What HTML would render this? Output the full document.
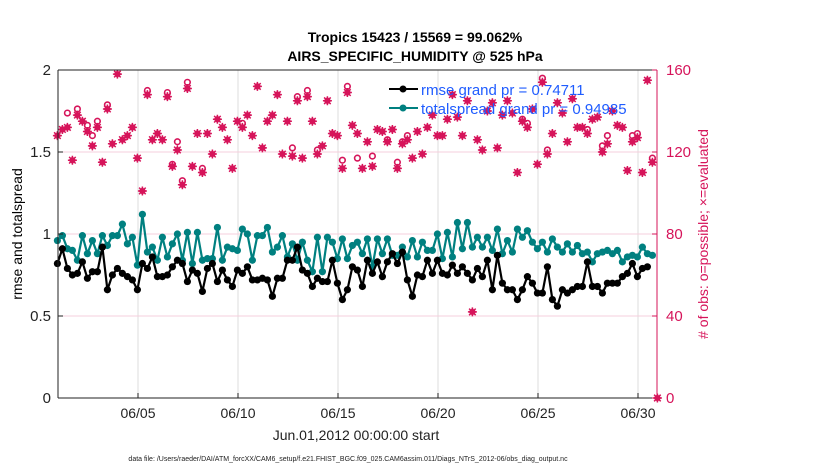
<!DOCTYPE html>
<html><head><meta charset="utf-8"><style>
body{margin:0;background:#fff;}
svg text{font-family:"Liberation Sans",sans-serif;}
</style></head><body>
<svg id="chart" width="830" height="470" viewBox="0 0 830 470">
<text x="415" y="42" text-anchor="middle" font-size="14" font-weight="bold">Tropics 15423 / 15569 = 99.062%</text>
<text x="415" y="61" text-anchor="middle" font-size="14" font-weight="bold">AIRS_SPECIFIC_HUMIDITY @ 525 hPa</text>
<g id="grid"></g>
<g id="marks"></g>
<g id="axes"></g>
<text transform="translate(22,234) rotate(-90)" text-anchor="middle" font-size="14">rmse and totalspread</text>
<text transform="translate(708,234) rotate(-90)" text-anchor="middle" font-size="14" fill="#d6145a"># of obs: o=possible; ×=evaluated</text>
<text x="356" y="440" text-anchor="middle" font-size="14" fill="#222">Jun.01,2012 00:00:00 start</text>
<text x="348" y="461" text-anchor="middle" font-size="7" fill="#222">data file: /Users/raeder/DAI/ATM_forcXX/CAM6_setup/f.e21.FHIST_BGC.f09_025.CAM6assim.011/Diags_NTrS_2012-06/obs_diag_output.nc</text>
<g id="legend"></g>
</svg>
<script>
const xTickLabels=["06/05","06/10","06/15","06/20","06/25","06/30"];
const xTickDays=[4,9,14,19,24,29];
const leftTicks=[0,0.5,1,1.5,2];
const rightTicks=[0,40,80,120,160];
const rmse=[0.82,0.91,0.79,0.75,0.76,0.83,0.73,0.77,0.77,0.92,0.66,0.75,0.79,0.76,0.74,0.72,0.66,0.82,0.79,0.86,0.74,0.74,0.75,0.80,0.84,0.82,0.71,0.78,0.76,0.65,0.79,0.82,0.71,0.78,0.72,0.68,0.78,0.76,0.80,0.72,0.72,0.73,0.72,0.62,0.73,0.73,0.84,0.84,0.92,0.78,0.76,0.68,0.73,0.71,0.71,0.84,0.70,0.60,0.66,0.80,
0.78,0.68,0.84,0.76,0.83,0.74,0.83,0.88,0.82,0.89,0.72,0.62,0.75,0.74,0.84,0.76,0.84,0.76,0.75,0.81,0.76,0.80,0.76,0.72,0.79,0.74,0.84,0.66,0.87,0.70,0.66,0.66,0.60,0.66,0.74,0.70,0.64,0.64,0.80,0.60,0.56,0.66,0.64,0.66,0.68,0.68,0.83,0.68,0.68,0.64,0.70,0.70,0.70,0.74,0.76,0.82,0.74,0.79,0.80,null,null];
const spread=[0.96,0.99,0.91,0.90,0.84,0.99,0.88,0.96,0.88,0.99,0.93,0.99,0.99,1.06,0.94,0.98,0.81,1.12,0.89,0.92,0.84,0.98,0.86,0.94,1.00,0.84,1.01,0.82,1.01,0.84,0.85,0.85,1.04,0.84,0.92,0.91,0.90,1.03,1.00,0.84,0.99,0.99,1.04,0.89,0.92,0.99,0.86,0.94,0.84,0.95,0.84,0.77,0.98,0.77,0.98,0.95,0.85,0.97,0.85,0.93,
0.95,0.88,0.97,0.80,0.97,0.88,0.97,0.87,0.87,0.92,0.86,0.96,0.86,0.95,0.90,0.90,1.00,0.85,1.01,0.86,1.07,0.91,1.07,0.92,0.98,0.92,0.98,0.90,1.03,0.88,0.96,0.89,1.03,0.98,1.02,0.95,0.91,0.95,0.89,0.97,0.92,0.89,0.94,0.89,0.93,0.88,0.89,0.83,0.88,0.89,0.90,0.88,0.90,0.83,0.86,0.87,0.86,0.92,0.88,0.87,null];
const evaluated=[128,131,132,116,138,135,130,123,132,115,141,124,158,126,128,132,117,101,148,126,129,126,147,113,121,104,151,113,129,110,129,119,136,132,126,112,135,132,138,128,
152,122,135,138,148,119,135,118,145,117,147,135,119,123,145,129,128,112,149,133,129,112,125,113,131,130,125,131,112,124,126,117,130,119,132,138,128,128,136,148,
137,128,145,42,126,121,140,144,122,138,145,139,110,135,132,141,114,154,119,129,144,139,125,146,132,132,129,136,137,120,124,140,133,132,111,125,127,110,155,115,0];
const possible=[128,131,139,116,141,135,133,128,135,115,143,124,158,126,128,132,117,101,150,126,129,126,149,114,125,106,154,113,129,112,129,119,136,132,126,112,135,134,138,128,
152,122,135,138,148,119,135,122,147,117,150,135,121,123,145,129,128,116,152,133,117,112,125,118,131,130,126,131,115,125,128,117,130,119,132,138,128,128,136,148,
137,128,145,42,126,121,140,144,122,138,145,139,110,136,134,141,114,156,121,129,144,139,125,146,132,132,131,136,137,123,128,140,133,132,111,128,129,110,155,117,0];

const X0=58,X1=657,Y0=398,Y1=70;
const xs=d=>X0+d*20;
const yl=v=>Y0-(v/2)*(Y0-Y1);
const yr=v=>Y0-(v/160)*(Y0-Y1);
const tday=i=>0.25*i-0.03;
const NS="http://www.w3.org/2000/svg";
function mk(tag,attrs,parent){const e=document.createElementNS(NS,tag);for(const k in attrs)e.setAttribute(k,attrs[k]);parent.appendChild(e);return e;}
const grid=document.getElementById('grid'),marks=document.getElementById('marks'),axes=document.getElementById('axes'),legend=document.getElementById('legend');
xTickDays.forEach(d=>{const l=mk('line',{x1:xs(d),x2:xs(d),y1:Y1,y2:Y0,stroke:'#dcdcdc','stroke-width':1},grid);

});
rightTicks.slice(1,4).forEach(v=>{const l=mk('line',{x1:X0,x2:X1,y1:yr(v),y2:yr(v),stroke:'#f6cfdc','stroke-width':1},grid);

});
mk('line',{x1:X0,x2:X1,y1:Y1,y2:Y1,stroke:'#222'},axes);
mk('line',{x1:X0,x2:X1,y1:Y0,y2:Y0,stroke:'#222'},axes);
mk('line',{x1:X0,x2:X0,y1:Y1,y2:Y0,stroke:'#222'},axes);
mk('line',{x1:X1,x2:X1,y1:Y1,y2:Y0,stroke:'#d6145a'},axes);
xTickDays.forEach((d,i)=>{mk('line',{x1:xs(d),x2:xs(d),y1:Y0,y2:Y0-5,stroke:'#222'},axes);
const t=mk('text',{x:xs(d),y:418,'text-anchor':'middle','font-size':14,fill:'#222'},axes);t.textContent=xTickLabels[i];

});
leftTicks.forEach(v=>{mk('line',{x1:X0,x2:X0+5,y1:yl(v),y2:yl(v),stroke:'#222'},axes);
const t=mk('text',{x:51,y:yl(v)+5,'text-anchor':'end','font-size':15,fill:'#222'},axes);t.textContent=v;

});
rightTicks.forEach(v=>{mk('line',{x1:X1,x2:X1-5,y1:yr(v),y2:yr(v),stroke:'#d6145a'},axes);
const t=mk('text',{x:666,y:yr(v)+5,'font-size':15,fill:'#d6145a'},axes);t.textContent=v;

});
const C='#d6145a';
possible.forEach((v,i)=>{if(v!==evaluated[i]){const c=mk('circle',{cx:xs(tday(i)),cy:yr(v),r:2.8,fill:'none',stroke:C,'stroke-width':1.6},marks);

}});
function star(x,y,parent){mk('path',{d:`M${x-4} ${y}L${x} ${y-4}L${x+4} ${y}L${x} ${y+4}Z`,fill:C},parent);
mk('path',{d:`M${x-4.5} ${y}H${x+4.5}M${x} ${y-4.5}V${y+4.5}M${x-3.3} ${y-3.3}L${x+3.3} ${y+3.3}M${x+3.3} ${y-3.3}L${x-3.3} ${y+3.3}`,stroke:C,'stroke-width':1.5},parent);}
evaluated.forEach((v,i)=>{const g=mk('g',{},marks);


star(xs(tday(i)),yr(v),g);});
function series(arr,col,name){let d='';arr.forEach((v,i)=>{if(v==null)return;d+=(d?'L':'M')+xs(tday(i)).toFixed(1)+' '+yl(v).toFixed(1);});
const p=mk('path',{d:d,fill:'none',stroke:col,'stroke-width':2.2},marks);


arr.forEach((v,i)=>{if(v==null)return;const c=mk('circle',{cx:xs(tday(i)),cy:yl(v),r:3.6,fill:col},marks);

});}
series(spread,'#008080','totalspread');
series(rmse,'#000','rmse');
// legend on top of marks
document.getElementById('chart').appendChild(legend);
mk('line',{x1:389,y1:89,x2:418,y2:89,stroke:'#000','stroke-width':2},legend);
mk('circle',{cx:403,cy:89,r:3.5,fill:'#000'},legend);
const t1=mk('text',{x:389,y:95,'font-size':15,fill:'#1f5cff'},legend);t1.textContent='rmse grand pr = 0.74711';


mk('line',{x1:389,y1:108,x2:418,y2:108,stroke:'#008080','stroke-width':2},legend);
mk('circle',{cx:403,cy:108,r:3.5,fill:'#008080'},legend);
const t2=mk('text',{x:389,y:114,'font-size':15,fill:'#1f5cff'},legend);t2.textContent='totalspread grand pr = 0.94985';


t1.setAttribute('x',421);t2.setAttribute('x',421);
</script>
</body></html>
